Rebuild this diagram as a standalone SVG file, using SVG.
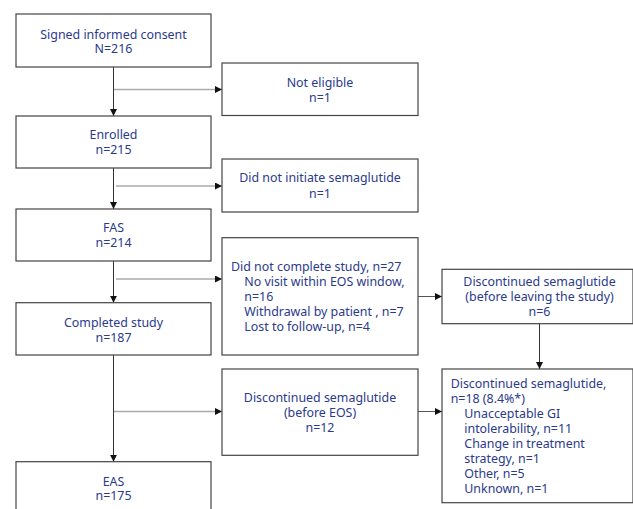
<svg xmlns="http://www.w3.org/2000/svg" width="633" height="509" viewBox="0 0 633 509">
<style>
.box{fill:#fff;stroke:#444;stroke-width:1.2}
text{font-family:"Noto Sans","Open Sans","DejaVu Sans",sans-serif;font-size:12.4px;fill:#2b3a8c}
.c{text-anchor:middle}
.v{stroke:#333;stroke-width:1;fill:none}
.h{stroke:#aaa;stroke-width:1.5;fill:none}
.hd{stroke:#555;stroke-width:1;fill:none}
</style>
<defs>
<marker id="ah" viewBox="0 0 10 10" refX="10" refY="5" markerWidth="7" markerHeight="7" markerUnits="userSpaceOnUse" orient="auto">
<path d="M0,0 L10,5 L0,10 z" fill="#111"/>
</marker>
</defs>
<rect width="633" height="509" fill="#fff"/>
<g id="connectors">
<path class="v" d="M113.5,67 V116" marker-end="url(#ah)"/>
<path class="h" d="M114,89.5 H222" marker-end="url(#ah)"/>
<path class="v" d="M113.5,168 V209" marker-end="url(#ah)"/>
<path class="h" d="M116,186 H222" marker-end="url(#ah)"/>
<path class="v" d="M113.5,261 V302.7" marker-end="url(#ah)"/>
<path class="h" d="M116,279 H222" marker-end="url(#ah)"/>
<path class="hd" d="M418,296.5 H442" marker-end="url(#ah)"/>
<path class="v" d="M539.5,323.7 V369" marker-end="url(#ah)"/>
<path class="v" d="M113.5,355 V461.7" marker-end="url(#ah)"/>
<path class="h" d="M114,411.5 H222" marker-end="url(#ah)"/>
<path class="hd" d="M418,411.5 H442" marker-end="url(#ah)"/>
</g>
<g id="consent">
<rect class="box" x="16" y="14" width="195" height="53"/>
<text class="c" x="113.5" y="38.5">Signed informed consent</text>
<text class="c" x="113.5" y="53">N=216</text>
</g>
<g id="noteligible">
<rect class="box" x="222" y="63" width="196" height="52.5"/>
<text class="c" x="320" y="87">Not eligible</text>
<text class="c" x="320" y="102">n=1</text>
</g>
<g id="enrolled">
<rect class="box" x="16" y="116" width="195" height="52"/>
<text class="c" x="113.5" y="139">Enrolled</text>
<text class="c" x="113.5" y="154">n=215</text>
</g>
<g id="notinitiate">
<rect class="box" x="222" y="159" width="196" height="53"/>
<text class="c" x="320" y="182">Did not initiate semaglutide</text>
<text class="c" x="320" y="197.5">n=1</text>
</g>
<g id="fas">
<rect class="box" x="16" y="209" width="195" height="52"/>
<text class="c" x="113.5" y="232">FAS</text>
<text class="c" x="113.5" y="247">n=214</text>
</g>
<g id="notcomplete">
<rect class="box" x="222" y="237.7" width="196" height="117.3"/>
<text x="231" y="271">Did not complete study, n=27</text>
<text x="244.3" y="286">No visit within EOS window,</text>
<text x="244.3" y="301">n=16</text>
<text x="244.3" y="316">Withdrawal by patient , n=7</text>
<text x="244.3" y="331">Lost to follow-up, n=4</text>
</g>
<g id="discleaving">
<rect class="box" x="442" y="269.3" width="191" height="54.4"/>
<text class="c" x="539.5" y="286">Discontinued semaglutide</text>
<text class="c" x="539.5" y="301">(before leaving the study)</text>
<text class="c" x="539.5" y="316">n=6</text>
</g>
<g id="completed">
<rect class="box" x="16" y="302.7" width="195" height="52.3"/>
<text class="c" x="113.5" y="326.5">Completed study</text>
<text class="c" x="113.5" y="341.5">n=187</text>
</g>
<g id="disceos">
<rect class="box" x="222" y="369" width="196" height="86.3"/>
<text class="c" x="320" y="402">Discontinued semaglutide</text>
<text class="c" x="320" y="417">(before EOS)</text>
<text class="c" x="320" y="432">n=12</text>
</g>
<g id="disctotal">
<rect class="box" x="442" y="369" width="191" height="133.7"/>
<text x="450.7" y="388">Discontinued semaglutide,</text>
<text x="450.7" y="403">n=18 (8.4%*)</text>
<text x="464.3" y="418">Unacceptable GI</text>
<text x="464.3" y="433">intolerability, n=11</text>
<text x="464.3" y="448">Change in treatment</text>
<text x="464.3" y="463">strategy, n=1</text>
<text x="464.3" y="478">Other, n=5</text>
<text x="464.3" y="493">Unknown, n=1</text>
</g>
<g id="eas">
<rect class="box" x="16" y="461.7" width="195" height="60"/>
<text class="c" x="113.5" y="485.5">EAS</text>
<text class="c" x="113.5" y="500">n=175</text>
</g>
</svg>
